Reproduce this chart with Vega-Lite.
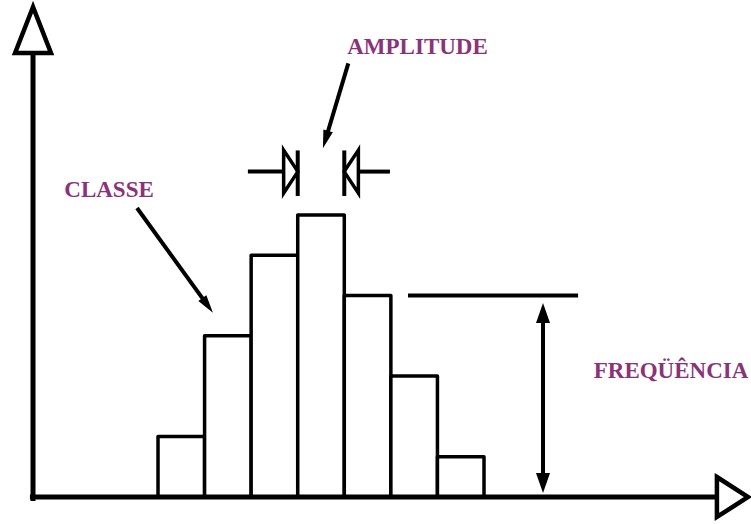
{
  "$schema": "https://vega.github.io/schema/vega-lite/v6.json",
  "width": 751,
  "height": 524,
  "autosize": {"type": "none"},
  "padding": 0,
  "background": "white",
  "config": {"view": {"stroke": null}},
  "datasets": {
    "classes": [
      {"classe": 1, "inicio": 0, "fim": 1, "freq": 1.5},
      {"classe": 2, "inicio": 1, "fim": 2, "freq": 4},
      {"classe": 3, "inicio": 2, "fim": 3, "freq": 6},
      {"classe": 4, "inicio": 3, "fim": 4, "freq": 7},
      {"classe": 5, "inicio": 4, "fim": 5, "freq": 5},
      {"classe": 6, "inicio": 5, "fim": 6, "freq": 3},
      {"classe": 7, "inicio": 6, "fim": 7, "freq": 1}
    ],
    "segmentos": [
      {"id": "eixo", "x": -2.684, "y": -0.1, "x2": -2.684, "y2": 11.0},
      {"id": "eixo", "x": -2.75, "y": 0, "x2": 12.0, "y2": 0},
      {"id": "freq", "x": 5.368, "y": 5.0, "x2": 9.02, "y2": 5.0},
      {"id": "freq", "x": 8.267, "y": 4.6, "x2": 8.267, "y2": 0.35},
      {"id": "amp", "x": 1.93, "y": 8.075, "x2": 2.7, "y2": 8.075},
      {"id": "amp", "x": 4.3, "y": 8.075, "x2": 4.98, "y2": 8.075},
      {"id": "amp", "x": 3.0, "y": 7.47, "x2": 3.0, "y2": 8.6},
      {"id": "amp", "x": 4.0, "y": 7.47, "x2": 4.0, "y2": 8.6},
      {"id": "seta", "x": -0.451, "y": 7.171, "x2": 1.065, "y2": 4.754},
      {"id": "seta", "x": 4.086, "y": 10.762, "x2": 3.597, "y2": 8.871}
    ],
    "pontas": [
      {"id": "eixo-y", "x": -2.684, "y": 11.588},
      {"id": "eixo-x", "x": 12.336, "y": 0},
      {"id": "freq-cima", "x": 8.267, "y": 4.566},
      {"id": "freq-baixo", "x": 8.267, "y": 0.347},
      {"id": "amp-dir", "x": 2.85, "y": 8.075},
      {"id": "amp-esq", "x": 4.15, "y": 8.075},
      {"id": "seta-classe", "x": 1.065, "y": 4.754},
      {"id": "seta-amp", "x": 3.597, "y": 8.871}
    ],
    "rotulos": [
      {"texto": "AMPLITUDE", "x": 5.572, "y": 10.993},
      {"texto": "CLASSE", "x": -1.052, "y": 7.444},
      {"texto": "FREQÜÊNCIA", "x": 11.016, "y": 2.953}
    ]
  },
  "layer": [
    {
      "data": {"name": "classes"},
      "mark": {"type": "rect", "fill": "white", "stroke": "black", "strokeWidth": 3.5, "strokeJoin": "round"},
      "encoding": {
        "x": {"field": "inicio", "type": "quantitative", "scale": {"domain": [-3.393, 12.733], "nice": false, "zero": false}, "axis": null},
        "x2": {"field": "fim"},
        "y": {"field": "freq", "type": "quantitative", "scale": {"domain": [-0.67, 12.333], "nice": false, "zero": false}, "axis": null},
        "y2": {"datum": 0}
      }
    },
    {
      "data": {"name": "segmentos"},
      "mark": {"type": "rule", "color": "black", "strokeCap": "butt"},
      "encoding": {
        "x": {"field": "x", "type": "quantitative", "scale": {"domain": [-3.393, 12.733], "nice": false, "zero": false}, "axis": null},
        "x2": {"field": "x2"},
        "y": {"field": "y", "type": "quantitative", "scale": {"domain": [-0.67, 12.333], "nice": false, "zero": false}, "axis": null},
        "y2": {"field": "y2"},
        "strokeWidth": {"condition": {"test": "datum.id === 'eixo'", "value": 5}, "value": 4}
      }
    },
    {
      "data": {"name": "pontas"},
      "transform": [{"filter": "datum.id === 'eixo-y'"}],
      "mark": {"type": "point", "shape": "M0,-1L-0.78,1L0.78,1Z", "size": 2116, "filled": false, "stroke": "black", "strokeWidth": 4.5, "opacity": 1},
      "encoding": {
        "x": {"field": "x", "type": "quantitative", "scale": {"domain": [-3.393, 12.733], "nice": false, "zero": false}, "axis": null},
        "y": {"field": "y", "type": "quantitative", "scale": {"domain": [-0.67, 12.333], "nice": false, "zero": false}, "axis": null}
      }
    },
    {
      "data": {"name": "pontas"},
      "transform": [{"filter": "datum.id === 'eixo-x'"}],
      "mark": {"type": "point", "shape": "M-0.78,-1L0.78,0L-0.78,1Z", "size": 1600, "filled": false, "stroke": "black", "strokeWidth": 4.5, "opacity": 1},
      "encoding": {
        "x": {"field": "x", "type": "quantitative", "scale": {"domain": [-3.393, 12.733], "nice": false, "zero": false}, "axis": null},
        "y": {"field": "y", "type": "quantitative", "scale": {"domain": [-0.67, 12.333], "nice": false, "zero": false}, "axis": null}
      }
    },
    {
      "data": {"name": "pontas"},
      "transform": [{"filter": "datum.id === 'freq-cima'"}],
      "mark": {"type": "point", "shape": "M0,-1L-0.7,1L0.7,1Z", "size": 400, "filled": true, "fill": "black", "opacity": 1},
      "encoding": {
        "x": {"field": "x", "type": "quantitative", "scale": {"domain": [-3.393, 12.733], "nice": false, "zero": false}, "axis": null},
        "y": {"field": "y", "type": "quantitative", "scale": {"domain": [-0.67, 12.333], "nice": false, "zero": false}, "axis": null}
      }
    },
    {
      "data": {"name": "pontas"},
      "transform": [{"filter": "datum.id === 'freq-baixo'"}],
      "mark": {"type": "point", "shape": "M0,1L-0.7,-1L0.7,-1Z", "size": 400, "filled": true, "fill": "black", "opacity": 1},
      "encoding": {
        "x": {"field": "x", "type": "quantitative", "scale": {"domain": [-3.393, 12.733], "nice": false, "zero": false}, "axis": null},
        "y": {"field": "y", "type": "quantitative", "scale": {"domain": [-0.67, 12.333], "nice": false, "zero": false}, "axis": null}
      }
    },
    {
      "data": {"name": "pontas"},
      "transform": [{"filter": "datum.id === 'amp-dir'"}],
      "mark": {"type": "point", "shape": "M-0.33,-1L0.33,0L-0.33,1Z", "size": 1849, "filled": false, "stroke": "black", "strokeWidth": 3.5, "opacity": 1},
      "encoding": {
        "x": {"field": "x", "type": "quantitative", "scale": {"domain": [-3.393, 12.733], "nice": false, "zero": false}, "axis": null},
        "y": {"field": "y", "type": "quantitative", "scale": {"domain": [-0.67, 12.333], "nice": false, "zero": false}, "axis": null}
      }
    },
    {
      "data": {"name": "pontas"},
      "transform": [{"filter": "datum.id === 'amp-esq'"}],
      "mark": {"type": "point", "shape": "M0.33,-1L-0.33,0L0.33,1Z", "size": 1849, "filled": false, "stroke": "black", "strokeWidth": 3.5, "opacity": 1},
      "encoding": {
        "x": {"field": "x", "type": "quantitative", "scale": {"domain": [-3.393, 12.733], "nice": false, "zero": false}, "axis": null},
        "y": {"field": "y", "type": "quantitative", "scale": {"domain": [-0.67, 12.333], "nice": false, "zero": false}, "axis": null}
      }
    },
    {
      "data": {"name": "pontas"},
      "transform": [{"filter": "datum.id === 'seta-classe' || datum.id === 'seta-amp'"}],
      "mark": {"type": "point", "shape": "M-0.55,-1L0.55,-1L0,1Z", "size": 324, "filled": true, "fill": "black", "opacity": 1},
      "encoding": {
        "x": {"field": "x", "type": "quantitative", "scale": {"domain": [-3.393, 12.733], "nice": false, "zero": false}, "axis": null},
        "y": {"field": "y", "type": "quantitative", "scale": {"domain": [-0.67, 12.333], "nice": false, "zero": false}, "axis": null},
        "angle": {"condition": {"test": "datum.id === 'seta-classe'", "value": -36}, "value": 16.7}
      }
    },
    {
      "data": {"name": "rotulos"},
      "mark": {"type": "text", "font": "Liberation Serif", "fontWeight": "bold", "fontSize": 23, "fill": "#8a3477", "align": "center", "baseline": "alphabetic"},
      "encoding": {
        "x": {"field": "x", "type": "quantitative", "scale": {"domain": [-3.393, 12.733], "nice": false, "zero": false}, "axis": null},
        "y": {"field": "y", "type": "quantitative", "scale": {"domain": [-0.67, 12.333], "nice": false, "zero": false}, "axis": null},
        "text": {"field": "texto"}
      }
    }
  ]
}
